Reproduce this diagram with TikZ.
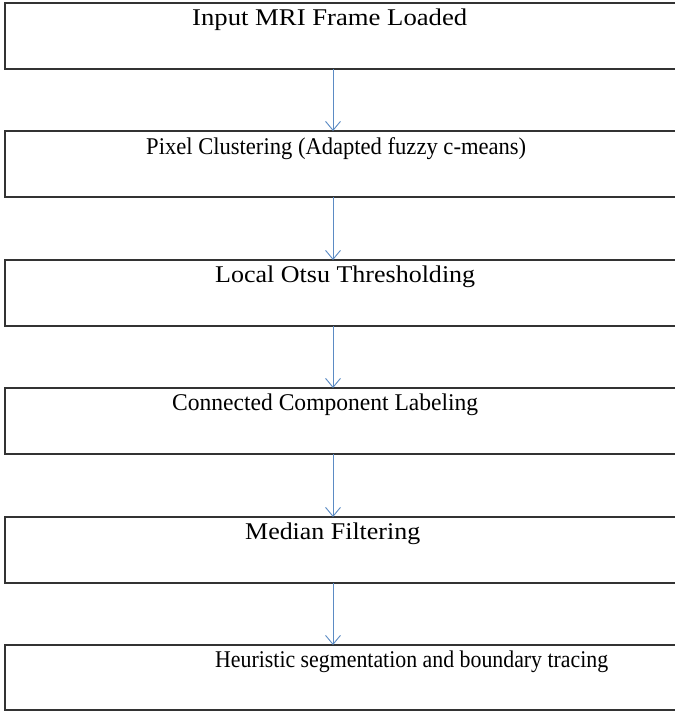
\documentclass[tikz,border=0pt]{standalone}
\usepackage{fontspec}
\setmainfont{Liberation Serif}
\usetikzlibrary{arrows.meta}
\definecolor{boxline}{HTML}{333333}
\definecolor{arrblue}{HTML}{5B8BC4}
\newcommand{\fitw}[2]{\resizebox{#1pt}{\height}{#2}}
\tikzset{
  box/.style={draw=boxline, line width=1.6pt, minimum width=720pt, minimum height=66pt, inner sep=0pt, outer sep=0pt, anchor=north west},
  lbl/.style={anchor=base west, inner sep=0pt, font=\fontsize{24}{29}\selectfont, text=black},
  arr/.style={draw=arrblue, line width=0.9pt, -{Straight Barb[length=9pt,width=15pt,line width=0.9pt]}}
}
\begin{document}
\begin{tikzpicture}[x=1pt,y=-1pt]
\useasboundingbox (0,0) rectangle (675,713);
\clip (0,0) rectangle (675,713);
\fill[white] (0,0) rectangle (675,713);
\coordinate (ax) at (333,0);
\node[box] (b1) at (5,3) {};
\node[box] (b2) at (5,131) {};
\node[box] (b3) at (5,260) {};
\node[box] (b4) at (5,388) {};
\node[box] (b5) at (5,517) {};
\node[box, minimum height=65pt] (b6) at (5,645) {};
\node[lbl] (t1) at (192,25) {\fitw{275}{Input MRI Frame Loaded}};
\node[lbl] (t2) at (146,154) {\fitw{380}{Pixel Clustering (Adapted fuzzy c-means)}};
\node[lbl] (t3) at (215,282) {\fitw{260}{Local Otsu Thresholding}};
\node[lbl] (t4) at (172,410) {\fitw{306}{Connected Component Labeling}};
\node[lbl] (t5) at (245,539) {\fitw{175}{Median Filtering}};
\node[lbl] (t6) at (215,667) {\fitw{393}{Heuristic segmentation and boundary tracing}};
\draw[arr] (b1.south -| ax) -- (b2.north -| ax);
\draw[arr] (b2.south -| ax) -- (b3.north -| ax);
\draw[arr] (b3.south -| ax) -- (b4.north -| ax);
\draw[arr] (b4.south -| ax) -- (b5.north -| ax);
\draw[arr] (b5.south -| ax) -- (b6.north -| ax);
\end{tikzpicture}
\end{document}
